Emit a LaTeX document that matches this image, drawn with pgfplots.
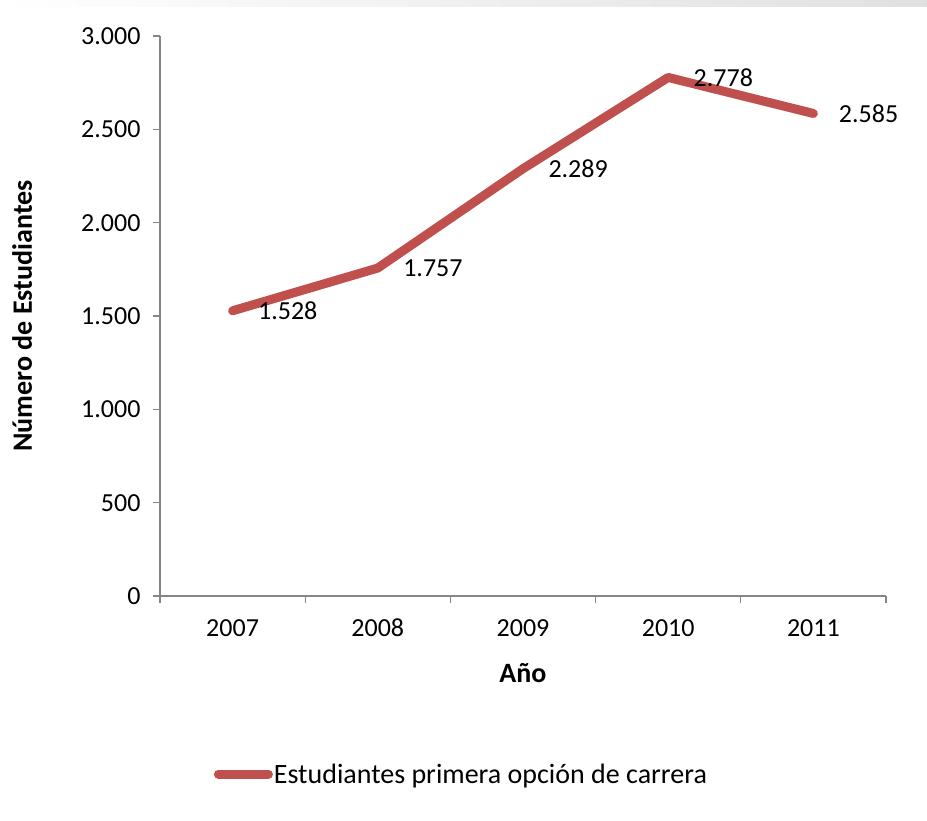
\documentclass[border=0pt]{standalone}
\usepackage{fontspec}
\setmainfont{Carlito}
\usepackage{pgfplots}
\pgfplotsset{compat=1.18}
\definecolor{serie}{HTML}{C0504D}
\definecolor{eje}{HTML}{868686}

\begin{document}
\begin{tikzpicture}
\path[use as bounding box] (0pt,0pt) rectangle (927pt,820pt);
\shade[left color=white, right color=black!12] (0pt,813pt) rectangle (927pt,820pt);
\begin{axis}[
    at={(160pt,224pt)}, anchor=south west,
    width=726pt, height=560pt, scale only axis,
    xmin=-0.5, xmax=4.5, ymin=0, ymax=3000,
    axis x line*=bottom, axis y line*=left,
    axis line style={eje, line width=1.3pt},
    tick style={eje, line width=1.3pt},
    tick align=outside, major tick length=7pt,
    xtick={-0.5,0.5,...,4.5},
    x tick label as interval,
    xticklabels={2007,2008,2009,2010,2011},
    ytick={0,500,...,3000},
    yticklabels={0,500,{1.000},{1.500},{2.000},{2.500},{3.000}},
    ticklabel style={font=\fontsize{26}{30}\selectfont, text=black},
    xticklabel style={text height=17pt, text depth=0pt, yshift=-13pt},
    yticklabel style={xshift=-9pt},
    xlabel={\textbf{Año}},
    ylabel={\textbf{Número de Estudiantes}},
    label style={font=\fontsize{28}{32}\selectfont},
    xlabel style={at={(0.5,-0.137)}, anchor=center},
    ylabel style={at={(-0.19,0.5)}, anchor=center, rotate=0},
    point meta=explicit symbolic,
    nodes near coords,
    nodes near coords style={anchor=west, inner sep=0pt, xshift=21pt,
        font=\fontsize{26}{30}\selectfont, text=black},
    legend style={at={(0.074,-0.318)}, anchor=west, draw=none, fill=none,
        font=\fontsize{28}{32}\selectfont, inner sep=0pt,
        /tikz/every even column/.append style={column sep=0pt}},
    legend image code/.code={\draw[#1, line cap=round] (0pt,0pt) -- (50pt,0pt);},
    legend style={nodes={inner xsep=1pt}},
    clip=false,
]
\addplot[serie, line width=9pt, line join=round, line cap=round] coordinates {
    (0,1528) [1.528]
    (1,1757) [1.757]
    (2,2289) [2.289]
    (3,2778) [2.778]
    (4,2585) [2.585]
};
\legend{Estudiantes primera opción de carrera}
\end{axis}
\end{tikzpicture}
\end{document}
